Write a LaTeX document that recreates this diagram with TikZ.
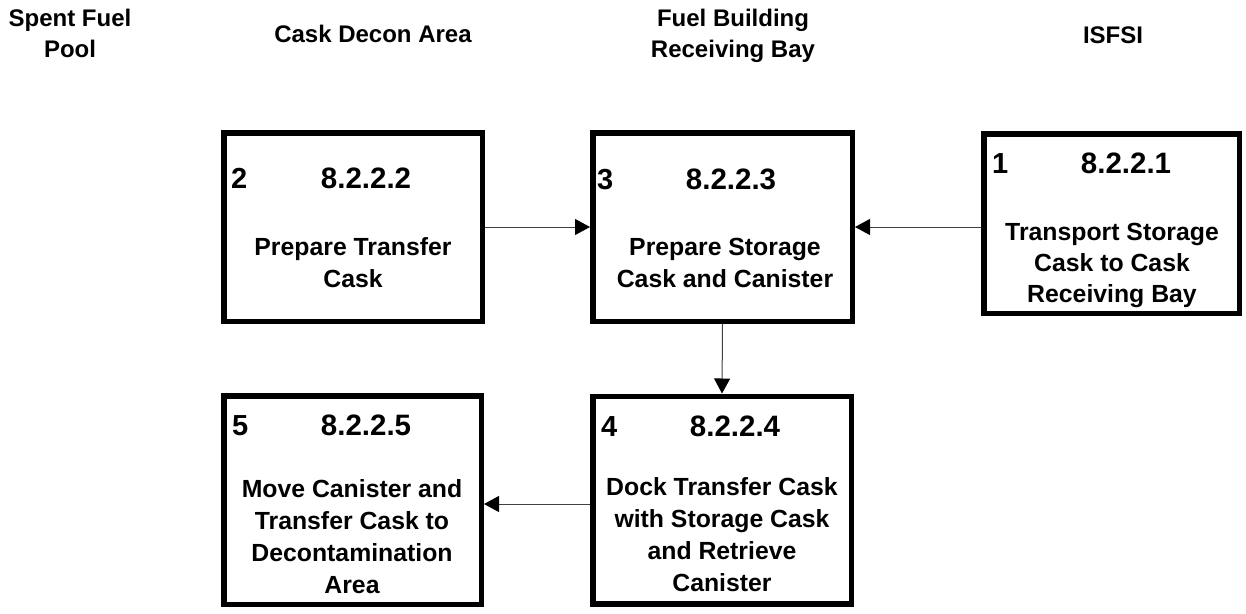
\documentclass[tikz,border=0pt]{standalone}
\usepackage{fontspec}
\setmainfont{Liberation Sans}
\usetikzlibrary{arrows.meta}
\newcommand\mlines[1]{\begin{tabular}[t]{@{}c@{}}#1\end{tabular}}
\tikzset{
  stepbox/.style={draw=black, line width=5.5pt, fill=white, inner sep=0pt},
  head/.style={anchor=base, inner sep=0pt, font=\fontsize{24}{30.5}\selectfont\bfseries},
  idnum/.style={anchor=base west, inner sep=0pt, font=\fontsize{29}{32}\selectfont\bfseries},
  code/.style={anchor=base, inner sep=0pt, font=\fontsize{29.5}{32}\selectfont\bfseries},
  body/.style={anchor=base, inner sep=0pt, font=\fontsize{24.8}{32}\selectfont\bfseries},
  flow/.style={draw=black!75, line width=1pt, -{Triangle[length=15pt,width=16pt,color=black]}}
}
\begin{document}
\begin{tikzpicture}[x=1pt,y=-1pt]
\useasboundingbox (0,0) rectangle (1246,613);
% column headings
\node[head] (h1) at (70,27) {\mlines{Spent Fuel\\Pool}};
\node[head] (h2) at (373,42) {Cask Decon Area};
\node[head] (h3) at (733,27) {\mlines{Fuel Building\\Receiving Bay}};
\node[head] (h4) at (1113,43) {ISFSI};
% boxes
\node[stepbox, minimum width=258.5pt, minimum height=188.5pt] (b2) at (353,227) {};
\node[stepbox, minimum width=259.5pt, minimum height=188.5pt] (b3) at (722.5,227) {};
\node[stepbox, minimum width=255.5pt, minimum height=179.5pt] (b1) at (1111.5,223.5) {};
\node[stepbox, minimum width=257.5pt, minimum height=208.5pt] (b5) at (352.5,500) {};
\node[stepbox, minimum width=258.5pt, minimum height=207.5pt] (b4) at (722,500) {};
% box 2
\node[idnum] (n2) at (231,188) {2};
\node[code] (c2) at (366,188) {8.2.2.2};
\node[body] (t2) at (353,255) {\mlines{Prepare Transfer\\Cask}};
% box 3
\node[idnum] (n3) at (597,189) {3};
\node[code] (c3) at (731,189) {8.2.2.3};
\node[body] (t3) at (725,255) {\mlines{Prepare Storage\\Cask and Canister}};
% box 1
\node[idnum] (n1) at (992,173) {1};
\node[code] (c1) at (1126,173) {8.2.2.1};
\node[body] (t1) at (1112,240) {\mlines{Transport Storage\\[-1pt]Cask to Cask\\[-1pt]Receiving Bay}};
% box 5
\node[idnum] (n5) at (232,435) {5};
\node[code] (c5) at (366,435) {8.2.2.5};
\node[body] (t5) at (352,497) {\mlines{Move Canister and\\Transfer Cask to\\Decontamination\\Area}};
% box 4
\node[idnum] (n4) at (601,436) {4};
\node[code] (c4) at (735,436) {8.2.2.4};
\node[body] (t4) at (722,495) {\mlines{Dock Transfer Cask\\with Storage Cask\\and Retrieve\\Canister}};
% connectors
\draw[flow] (b2) -- (b3);
\draw[flow] (b1.west |- b3.east) -- (b3.east);
\draw[flow] (b3.south) -- (b4.north);
\draw[flow] ([yshift=-4pt]b4.west) -- ([yshift=-4pt]b5.east);
\end{tikzpicture}
\end{document}
